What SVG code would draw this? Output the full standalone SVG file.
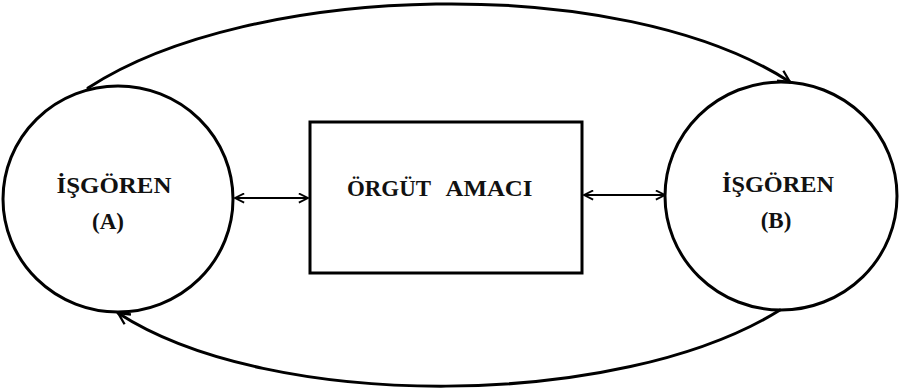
<svg xmlns="http://www.w3.org/2000/svg" width="902" height="392" viewBox="0 0 902 392">
<style>
.shape{fill:none;stroke:#000;stroke-width:3}
.conn{fill:none;stroke:#000;stroke-width:3;stroke-linecap:round}
.thin{fill:none;stroke:#000;stroke-width:2.2}
.lbl{font-family:"Liberation Serif","Times New Roman",serif;font-weight:bold;font-size:23px;fill:#111;text-anchor:middle}
</style>
<defs>
<marker id="ah" viewBox="0 0 12 12" refX="11" refY="6" markerWidth="14" markerHeight="14" markerUnits="userSpaceOnUse" orient="auto-start-reverse">
<path d="M1 1 L11 6 L1 11" fill="none" stroke="#000" stroke-width="2"/>
</marker>
<marker id="ahs" viewBox="0 0 12 12" refX="11" refY="6" markerWidth="11" markerHeight="11" markerUnits="userSpaceOnUse" orient="auto-start-reverse">
<path d="M1 1 L11 6 L1 11" fill="none" stroke="#000" stroke-width="2"/>
</marker>
</defs>
<rect width="902" height="392" fill="#fff"/>
<g id="connectors">
<path class="conn" d="M88 88 C250 -18, 620 -28, 790 82" marker-end="url(#ah)"/>
<path class="conn" d="M780 310 C620 410, 270 412, 118 313" marker-end="url(#ah)"/>
<line class="thin" x1="235" y1="198" x2="308" y2="198" marker-start="url(#ahs)" marker-end="url(#ahs)"/>
<line class="thin" x1="584" y1="195" x2="665" y2="195" marker-start="url(#ahs)" marker-end="url(#ahs)"/>
</g>
<g id="isgoren-a">
<ellipse class="shape" cx="118" cy="199" rx="115" ry="113"/>
<text class="lbl" x="114" y="193" textLength="115" lengthAdjust="spacingAndGlyphs">İŞGÖREN</text>
<text class="lbl" x="108" y="229">(A)</text>
</g>
<g id="orgut-amaci">
<rect class="shape" x="310" y="122" width="272" height="151"/>
<text class="lbl" x="389" y="196" textLength="84" lengthAdjust="spacingAndGlyphs">ÖRGÜT</text>
<text class="lbl" x="489" y="196" textLength="87" lengthAdjust="spacingAndGlyphs">AMACI</text>
</g>
<g id="isgoren-b">
<ellipse class="shape" cx="781" cy="196" rx="116" ry="114"/>
<text class="lbl" x="778" y="192" textLength="112" lengthAdjust="spacingAndGlyphs">İŞGÖREN</text>
<text class="lbl" x="776" y="228">(B)</text>
</g>
</svg>
